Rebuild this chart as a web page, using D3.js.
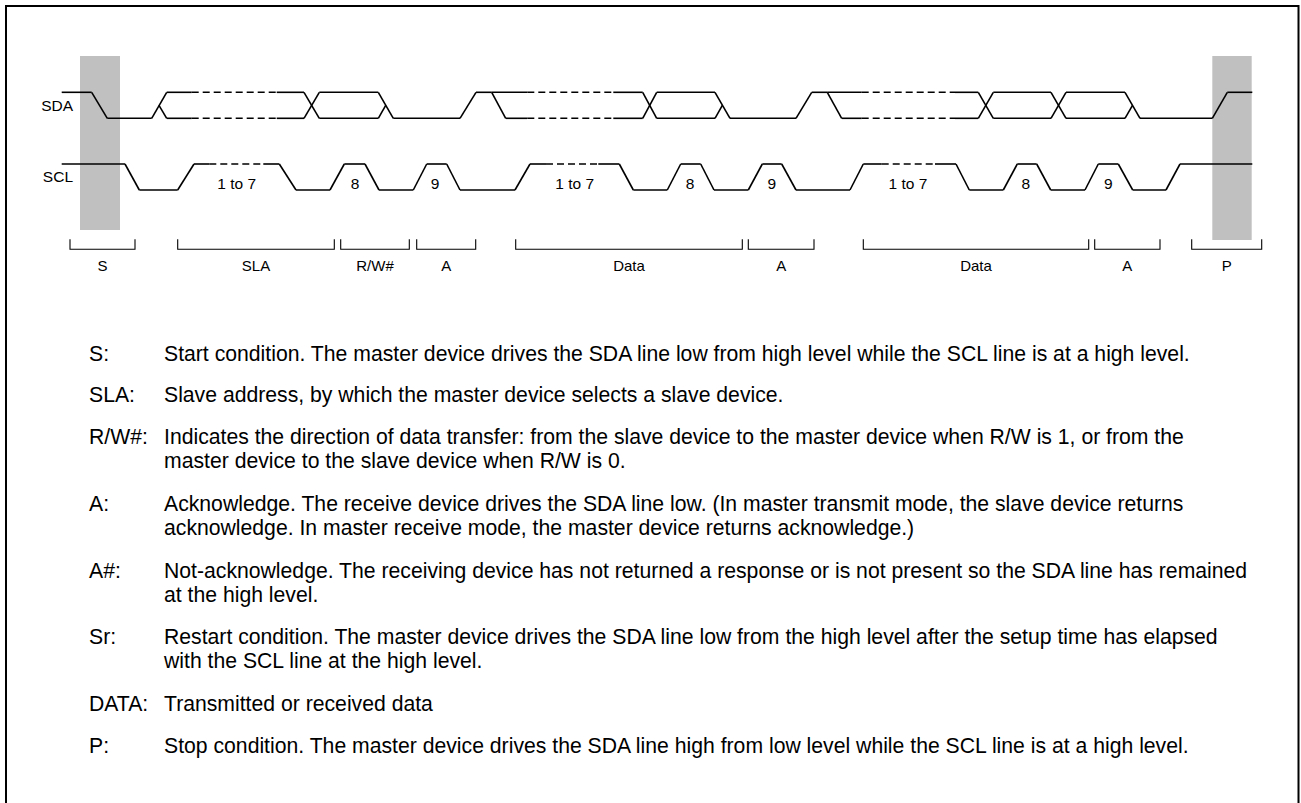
<!DOCTYPE html>
<html><head><meta charset="utf-8">
<script src="https://cdn.jsdelivr.net/npm/d3@7"></script>
<style>
html,body{margin:0;padding:0;background:#fff;}
svg{display:block;font-family:Arial,"Liberation Sans",sans-serif;}
</style></head>
<body>
<svg id="c" width="1301" height="803"></svg>
<script>
// ---- data (time positions in diagram units, levels: 1 = high, 0 = low, 0.5 = mid) ----
const signalNames = ["SDA", "SCL"];
const sclTrace = [[61.7,1],[125,1],[139.3,0],[177.7,0],[194,1],[209.3,1],[263.3,1],[279.3,1],[296,0],[330,0],[344.3,1],[365,1],[379,0],[413.3,0],[426.7,1],[446.7,1],[460,0],[515,0],[530,1],[546,1],[598.3,1],[619.3,1],[633.3,0],[667.3,0],[680.7,1],[700.7,1],[714,0],[748.3,0],[762.3,1],[781.7,1],[796,0],[850,0],[863.3,1],[881.7,1],[935,1],[956,1],[969.3,0],[1003.3,0],[1017.3,1],[1036.7,1],[1050.7,0],[1085,0],[1098.3,1],[1118.3,1],[1132.7,0],[1166,0],[1180,1],[1252.3,1]];
const sclDashed = [[209.3,263.3],[546,598.3],[881.7,935]];
const sdaTraces = [
  [[61.7,1],[91.7,1],[107.3,0],[151.7,0],[166.7,1],[191.7,1],[276.7,1],[304,1],[319.3,0],[378.3,0],[385.7,0.5]],
  [[159,0.5],[166.7,0],[191.7,0],[276.7,0],[304,0],[319.3,1],[378.3,1],[393.3,0],[460,0],[476,1],[491.7,1],[527.3,1],[613.3,1],[642.7,1],[656.7,0],[715,0],[722.3,0.5]],
  [[491.7,1],[505.7,0],[527.3,0],[613.3,0],[642.7,0],[656.7,1],[715,1],[730,0],[796,0],[811.7,1],[827.3,1],[861.7,1],[955,1],[978.3,1],[993.3,0],[1051,0],[1066,1],[1125,1],[1140,0],[1212.3,0],[1227.3,1],[1252.3,1]],
  [[827.3,1],[841.7,0],[861.7,0],[955,0],[978.3,0],[993.3,1],[1051,1],[1066,0],[1125,0],[1132.5,0.5]]
];
const sdaDashed = [[191.7,276.7],[527.3,613.3],[861.7,955]];
const pulseLabels = ["1 to 7","8","9","1 to 7","8","9","1 to 7","8","9"];
const pulsePos = [236.7,355,435,574.7,690,771.7,908,1025.7,1108.3];
const conditionBands = [[80,120,230],[1212.3,1251.7,240]]; // start, end, bottom
const bracketLabels = ["S","SLA","R/W#","A","Data","A","Data","A","P"];
const bracketStart = [70,177.7,340.7,416.7,515.7,748.3,863.3,1094.7,1191.7];
const bracketEnd = [135,334.3,409.3,475.7,742.3,814,1088.7,1160,1261.7];
const legendTerms = ["S:","SLA:","R/W#:","A:","A#:","Sr:","DATA:","P:"];
const legendTexts = [
  ["Start condition. The master device drives the SDA line low from high level while the SCL line is at a high level."],
  ["Slave address, by which the master device selects a slave device."],
  ["Indicates the direction of data transfer: from the slave device to the master device when R/W is 1, or from the","master device to the slave device when R/W is 0."],
  ["Acknowledge. The receive device drives the SDA line low. (In master transmit mode, the slave device returns","acknowledge. In master receive mode, the master device returns acknowledge.)"],
  ["Not-acknowledge. The receiving device has not returned a response or is not present so the SDA line has remained","at the high level."],
  ["Restart condition. The master device drives the SDA line low from the high level after the setup time has elapsed","with the SCL line at the high level."],
  ["Transmitted or received data"],
  ["Stop condition. The master device drives the SDA line high from low level while the SCL line is at a high level."]
];

// ---- drawing ----
const svg = d3.select("#c");
const x = d3.scaleLinear().domain([0,1301]).range([0,1301]);
const ySda = d3.scaleLinear().domain([0,1]).range([118.3,92.3]);
const yScl = d3.scaleLinear().domain([0,1]).range([190,164]);

// frame
svg.append("rect").attr("x",6).attr("y",6).attr("width",1292.5).attr("height",800)
  .attr("fill","none").attr("stroke","#000").attr("stroke-width",2);

// grey condition bands
svg.selectAll("rect.band").data(conditionBands).join("rect").attr("class","band")
  .attr("x",d=>x(d[0])).attr("width",d=>x(d[1])-x(d[0]))
  .attr("y",56).attr("height",d=>d[2]-56).attr("fill","#c0c0c0");

function inDashed(a,b,ranges){return ranges.some(r=>a>=r[0]-0.01&&b<=r[1]+0.01);}
function drawTrace(pts,yS,dashedRanges){
  const segs=[];
  for(let i=0;i<pts.length-1;i++) segs.push([pts[i],pts[i+1]]);
  const g=svg.append("g");
  g.selectAll("line").data(segs).join("line")
    .attr("x1",d=>x(d[0][0])).attr("y1",d=>yS(d[0][1]))
    .attr("x2",d=>x(d[1][0])).attr("y2",d=>yS(d[1][1]))
    .attr("stroke","#000").attr("stroke-width",1.6).attr("stroke-linecap","butt")
    .attr("stroke-dasharray",d=>inDashed(d[0][0],d[1][0],dashedRanges)?"7,4":null);
}
drawTrace(sclTrace,yScl,sclDashed);
sdaTraces.forEach(t=>drawTrace(t,ySda,sdaDashed));

// signal names
svg.selectAll("text.sig").data(signalNames).join("text").attr("class","sig")
  .attr("x",73).attr("y",(d,i)=>i===0?ySda(0.5)+5.5:yScl(0.5)+5)
  .attr("text-anchor","end").attr("font-size",15.5).text(d=>d);

// pulse labels
svg.selectAll("text.pl").data(pulseLabels).join("text").attr("class","pl")
  .attr("x",(d,i)=>x(pulsePos[i])).attr("y",188.5)
  .attr("text-anchor","middle").attr("font-size",15.5).text(d=>d);

// brackets
const bg=svg.append("g");
bg.selectAll("path").data(bracketLabels).join("path")
  .attr("d",(d,i)=>`M${x(bracketStart[i])},239.3V249.3H${x(bracketEnd[i])}V239.3`)
  .attr("fill","none").attr("stroke","#000").attr("stroke-width",1.1);
bg.selectAll("text").data(bracketLabels).join("text")
  .attr("x",(d,i)=>(x(bracketStart[i])+x(bracketEnd[i]))/2).attr("y",270.5)
  .attr("text-anchor","middle").attr("font-size",15).text(d=>d);

// legend
const baselines=[361,402,444,511,578,644,711,753];
const lg=svg.append("g").attr("font-size",21.2).attr("fill","#000");
legendTerms.forEach((t,i)=>{
  lg.append("text").attr("x",89).attr("y",baselines[i]).text(t);
  legendTexts[i].forEach((line,j)=>{
    lg.append("text").attr("x",164).attr("y",baselines[i]+j*24.3).text(line);
  });
});
</script>
</body></html>
